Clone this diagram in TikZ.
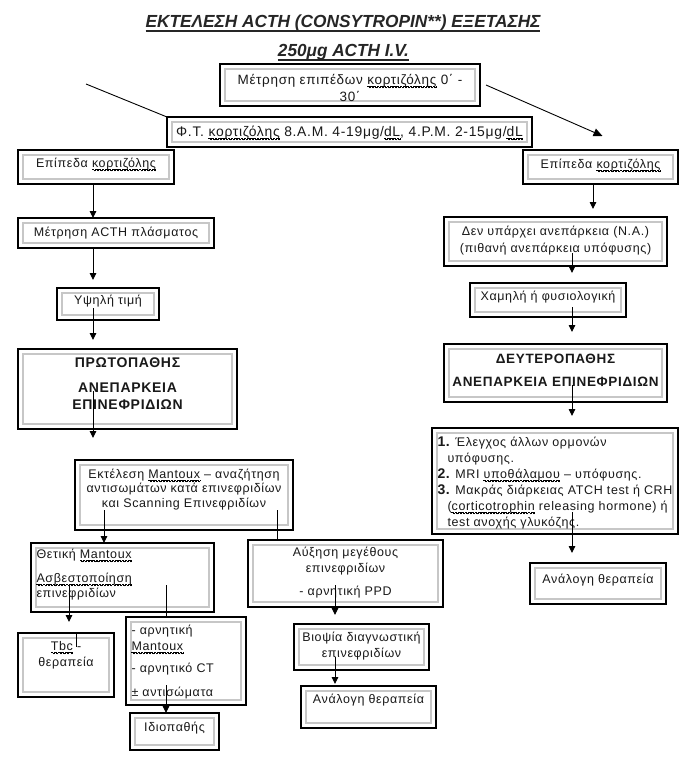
\documentclass[tikz,border=0pt]{standalone}
\usepackage{fontspec}
\setmainfont{Liberation Sans}[LetterSpace=5]
\usetikzlibrary{arrows.meta,calc}
\newsavebox\sqbox
\newsavebox\wavebox
\sbox\wavebox{\setlength\unitlength{1pt}\begin{picture}(3.2,0)\linethickness{0.8pt}\thicklines\qbezier(0,0)(0.8,1.8)(1.6,0)\qbezier(1.6,0)(2.4,-1.8)(3.2,0)\end{picture}}
\newcommand\sq[1]{\sbox\sqbox{#1}\leavevmode\rlap{\raisebox{-2.8pt}[0pt][0pt]{\color{red}\hbox to\wd\sqbox{\xleaders\copy\wavebox\hfil}}}\usebox\sqbox}
\newcommand\ul[1]{\sbox\sqbox{#1}\leavevmode\rlap{\rule[-4.6pt]{\wd\sqbox}{1.2pt}}\usebox\sqbox}
% centred box text: [font]{width}{height}{first baseline from top}{text}
\newcommand\bxc[5][\fontsize{12.5}{15}\selectfont]{\begin{minipage}[c][#3pt][t]{#2pt}\centering
  \leftskip=-30pt plus 1fil\rightskip=-30pt plus 1fil #1\vspace*{\dimexpr#4pt-0.7\baselineskip\relax}\strut#5\end{minipage}}
% left aligned box text
\newcommand\bxl[5][\fontsize{12.5}{15}\selectfont]{\begin{minipage}[c][#3pt][t]{#2pt}\raggedright
  \leftskip=5.5pt\rightskip=-60pt plus 1fil #1\vspace*{\dimexpr#4pt-0.7\baselineskip\relax}\strut#5\end{minipage}}
\newcommand\numb[1]{{\fontsize{14}{16}\selectfont\bfseries #1}}
\begin{document}
\begin{tikzpicture}[x=1pt,y=-1pt]
\tikzset{
  bx/.style={draw=black, line width=1.5pt, inner sep=0pt, outer sep=0pt, anchor=north west,
    text=black!90,
    path picture={\draw[black!22, line width=1.6pt]
      ([shift={(5pt,-5pt)}]path picture bounding box.north west) rectangle
      ([shift={(-5pt,5pt)}]path picture bounding box.south east);}},
  arr/.style={line width=0.9pt, -{Triangle[length=7pt,width=6.5pt]}},
  bigarr/.style={line width=0.9pt, -{Triangle[length=9pt,width=8pt]}},
  ln/.style={line width=0.9pt},
  ttl/.style={anchor=base, inner sep=0pt, text=black!85}
}
\fill[white] (0,0) rectangle (700,763);
\useasboundingbox (0,0) rectangle (700,763);

% titles
\node[ttl] (t1) at (343,27) {\fontsize{17.5}{20}\selectfont\addfontfeature{LetterSpace=0}\bfseries\itshape
  \resizebox{395pt}{\height}{\ul{ΕΚΤΕΛΕΣΗ ACTH (CONSYTROPIN**) ΕΞΕΤΑΣΗΣ}}};
\node[ttl] (t2) at (343.5,56) {\fontsize{17.5}{20}\selectfont\addfontfeature{LetterSpace=0}\bfseries\itshape
  \resizebox{131pt}{\height}{\ul{250μg ACTH I.V.}}};

% top boxes
\node[bx] (A) at (220,64) {\bxc[\fontsize{13.5}{17}\selectfont]{260}{42}{20}{Μέτρηση επιπέδων \sq{κορτιζόλης} 0΄ -\\30΄}};
\node[bx] (B) at (167,117) {\bxc[\fontsize{13.9}{15}\selectfont]{365}{30}{19}{Φ.Τ. \sq{κορτιζόλης} 8.Α.Μ. 4-19μg/\sq{dL}, 4.P.M. 2-15μg/\sq{dL}}};

% left column
\node[bx] (C) at (18,150) {\bxc{156}{34}{17}{Επίπεδα \sq{κορτιζόλης}}};
\node[bx] (D) at (18,218) {\bxc{196}{30}{18}{Μέτρηση ACTH πλάσματος}};
\node[bx] (E) at (57,288) {\bxc{102}{32}{16}{Υψηλή τιμή}};
\node[bx] (F) at (18,349) {\bxc[\fontsize{14}{17}\selectfont\bfseries]{219}{80}{18}{ΠΡΩΤΟΠΑΘΗΣ\\[8pt]ΑΝΕΠΑΡΚΕΙΑ\\ΕΠΙΝΕΦΡΙΔΙΩΝ}};
\node[bx] (G) at (75,460) {\bxc[\fontsize{12.5}{14.5}\selectfont]{218}{70}{18}{Εκτέλεση \sq{Mantoux} – αναζήτηση\\αντισωμάτων κατά επινεφριδίων\\και Scanning Επινεφριδίων}};
\node[bx] (H) at (31,543) {\bxl{183}{69}{15}{Θετική \sq{Mantoux}\\[9pt]\sq{Ασβεστοποίηση}\\επινεφριδίων}};
\node[bx] (K) at (18,633) {\bxc[\fontsize{12.5}{16}\selectfont]{96}{64}{17}{\sq{Tbc} -\\θεραπεία}};
\node[bx] (J) at (126,617) {\bxl[\fontsize{12.5}{16}\selectfont]{120}{88}{17}{- αρνητική\\\sq{Mantoux}\\[6pt]- αρνητικό CT\\[8pt]± αντισώματα}};
\node[bx] (L) at (130,713) {\bxc{89}{37}{18}{Ιδιοπαθής}};

% middle column
\node[bx] (I) at (248,540) {\bxc[\fontsize{12.5}{16}\selectfont]{195}{67}{16}{Αύξηση μεγέθους\\επινεφριδίων\\[7pt]- αρνητική PPD}};
\node[bx] (M) at (294,624) {\bxc[\fontsize{12.5}{16}\selectfont]{135}{46}{17}{Βιοψία διαγνωστική\\επινεφριδίων}};
\node[bx] (N) at (301,686) {\bxc{135}{42}{17}{Ανάλογη θεραπεία}};

% right column
\node[bx] (C2) at (523,150) {\bxc{155}{34}{18}{Επίπεδα \sq{κορτιζόλης}}};
\node[bx] (O) at (444,217) {\bxc[\fontsize{12.5}{17}\selectfont]{223}{49}{18}{Δεν υπάρχει ανεπάρκεια (Ν.Α.)\\(πιθανή ανεπάρκεια υπόφυσης)}};
\node[bx] (P) at (470,283) {\bxc{156}{34}{17}{Χαμηλή ή φυσιολογική}};
\node[bx] (Q) at (444,344) {\bxc[\fontsize{13.5}{23}\selectfont\bfseries]{223}{58}{19}{ΔΕΥΤΕΡΟΠΑΘΗΣ\\ΑΝΕΠΑΡΚΕΙΑ ΕΠΙΝΕΦΡΙΔΙΩΝ}};
\node[bx] (R) at (432,428) {\bxl[\fontsize{12.5}{16}\selectfont]{246}{106}{18}{\numb{1.} Έλεγχος άλλων ορμονών\\\hspace*{10pt}υπόφυσης.\\\numb{2.} MRI \sq{υποθάλαμου} – υπόφυσης.\\\numb{3.} Μακράς διάρκειας ATCH test ή CRH\\\hspace*{10pt}(\sq{corticotrophin} releasing hormone) ή\\\hspace*{10pt}test ανοχής γλυκόζης.}};
\node[bx] (S) at (530,563) {\bxc{136}{41}{20}{Ανάλογη θεραπεία}};

% start points of connectors
\coordinate (d1) at (86,84);
\coordinate (xa) at (93,0);
\coordinate (e1) at (93,308);
\coordinate (f1) at (93,391);
\coordinate (g1) at (104,510);
\coordinate (g2) at (277,510);
\coordinate (h1) at (69,585);
\coordinate (h2) at (166,585);
\coordinate (j1) at (166,685);
\coordinate (i1) at (335,585);
\coordinate (m1) at (335,657);
\coordinate (xr) at (593,0);
\coordinate (o1) at (572,253);
\coordinate (p1) at (572,307);
\coordinate (q1) at (572,385);
\coordinate (r1) at (572,512);

% connectors
\draw[ln] (d1) -- (B.north west);
\draw[bigarr] ($(A.east)+(6,0)$) -- ($(C2.north)+(2,-14)$);
\draw[arr] (C.south -| xa) -- (D.north -| xa);
\draw[arr] (D.south -| xa) -- ($(E.north -| xa)+(0,-8)$);
\draw[arr] (e1) -- ($(F.north -| e1)+(0,-9)$);
\draw[arr] (f1) -- ($(G.north -| f1)+(0,-22)$);
\draw[arr] (g1) -- (H.north -| g1);
\draw[ln] (g2) -- (I.north -| g2);
\draw[arr] (h1) -- ($(K.north -| h1)+(0,-11)$);
\draw[ln] (h2) -- (J.north -| h2);
\draw[arr] (j1) -- (L.north -| j1);
\draw[arr] (i1) -- ($(M.north -| i1)+(0,-9)$);
\draw[arr] (m1) -- ($(N.north -| m1)+(0,-2)$);
\draw[arr] (C2.south -| xr) -- ($(O.north -| xr)+(0,-8)$);
\draw[arr] (o1) -- ($(P.north -| o1)+(0,-10)$);
\draw[arr] (p1) -- ($(Q.north -| p1)+(0,-12)$);
\draw[arr] (q1) -- ($(R.north -| q1)+(0,-12)$);
\draw[arr] (r1) -- ($(S.north -| r1)+(0,-10)$);

% text cursor mark in the Tbc box
\draw[line width=0.8pt] (74.5,632) -- (78.5,632) (76.5,632) -- (76.5,647);
\end{tikzpicture}
\end{document}
